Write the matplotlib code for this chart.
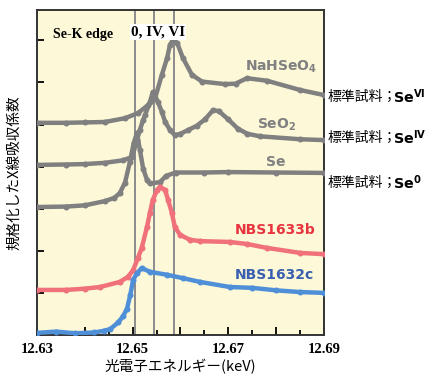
import matplotlib
matplotlib.use("Agg")
import matplotlib.pyplot as plt
from matplotlib.ticker import MultipleLocator, FixedLocator, FuncFormatter

plt.rcParams['font.family'] = ['Noto Sans CJK JP', 'DejaVu Sans']

# energy (keV) and normalised absorption
se_e = [12.630, 12.636, 12.640, 12.6442, 12.6462, 12.6473, 12.6484, 12.6494, 12.6502,
        12.6509, 12.6515, 12.6522, 12.6530, 12.6536, 12.6557, 12.6570, 12.6590,
        12.6650, 12.6700, 12.6800, 12.6900]
se_i = [3.04, 3.05, 3.08, 3.18, 3.26, 3.37, 3.62, 4.10, 4.55,
        4.80, 4.40, 3.95, 3.68, 3.60, 3.63, 3.78, 3.86,
        3.86, 3.87, 3.86, 3.85]

seo2_e = [12.630, 12.636, 12.640, 12.6442, 12.6480, 12.6499, 12.6509, 12.6515, 12.6522,
          12.6526, 12.6536, 12.6542, 12.6553, 12.6561, 12.6568, 12.6578, 12.6588,
          12.6600, 12.6616, 12.6634, 12.6651, 12.6668, 12.6680, 12.6700, 12.6720,
          12.6740, 12.6766, 12.6850, 12.6900]
seo2_i = [4.04, 4.05, 4.06, 4.09, 4.15, 4.23, 4.63, 4.87, 5.11,
          5.23, 5.53, 5.77, 5.53, 5.30, 5.06, 4.87, 4.75,
          4.78, 4.87, 4.97, 5.12, 5.34, 5.32, 5.12, 4.90,
          4.78, 4.72, 4.65, 4.63]

nahseo4_e = [12.630, 12.636, 12.640, 12.6442, 12.6484, 12.6511, 12.6532, 12.6547, 12.6561,
             12.6572, 12.6578, 12.6584, 12.6593, 12.6605, 12.6624, 12.6645, 12.6693,
             12.6715, 12.6739, 12.6781, 12.6850, 12.6900]
nahseo4_i = [5.04, 5.04, 5.05, 5.06, 5.15, 5.27, 5.46, 5.63, 6.18,
             6.58, 6.89, 7.01, 6.94, 6.58, 6.18, 6.02, 5.96,
             5.97, 6.10, 6.04, 5.82, 5.70]

nbs1633b_e = [12.630, 12.636, 12.640, 12.6432, 12.6473, 12.6490, 12.6501, 12.6511, 12.6519,
              12.6530, 12.6536, 12.6542, 12.6551, 12.6557, 12.6568, 12.6574, 12.6582,
              12.6588, 12.6599, 12.6620, 12.6641, 12.6703, 12.6740, 12.6780, 12.6850,
              12.6900]
nbs1633b_i = [1.07, 1.07, 1.10, 1.14, 1.26, 1.38, 1.54, 1.83, 2.07,
              2.57, 2.90, 3.21, 3.44, 3.52, 3.44, 3.21, 2.90,
              2.57, 2.38, 2.26, 2.23, 2.21, 2.16, 2.07, 1.95,
              1.92]

nbs1632c_e = [12.630, 12.634, 12.638, 12.642, 12.644, 12.6453, 12.6470, 12.6480, 12.6488,
              12.6495, 12.6501, 12.6509, 12.6519, 12.6536, 12.6572, 12.6605, 12.6641,
              12.6703, 12.6750, 12.6800, 12.6850, 12.6900]
nbs1632c_i = [0.05, 0.08, 0.04, 0.06, 0.10, 0.14, 0.30, 0.45, 0.62,
              0.95, 1.31, 1.47, 1.59, 1.50, 1.43, 1.35, 1.26,
              1.14, 1.12, 1.06, 1.02, 1.00]

edge_e = [12.6505, 12.6545, 12.6586]
std_prefix = '標準試料；'
std_sup = ['VI', 'IV', '0']
std_y = [5.65, 4.68, 3.62]

gray = '#808080'
red = '#f0717c'
blue = '#4f8fd8'

fig = plt.figure(figsize=(4.38, 3.78), dpi=100)
ax = fig.add_axes([0.0845, 0.1138, 0.6552, 0.8597])
ax.set_facecolor('#fcf8d8')

for e in edge_e:
    ax.axvline(e, color='#8c8c8c', lw=1.4, zorder=1)

curves = [(se_e, se_i, gray), (seo2_e, seo2_i, gray), (nahseo4_e, nahseo4_i, gray),
          (nbs1633b_e, nbs1633b_i, red), (nbs1632c_e, nbs1632c_i, blue)]
for xs, ys, c in curves:
    ax.plot(xs, ys, color=c, lw=3.2, marker='o', ms=3.3, solid_joinstyle='round', zorder=3)

ax.set_xlim(12.63, 12.69)
ax.set_ylim(0, 7.72)

ax.xaxis.set_major_locator(FixedLocator([12.63, 12.64, 12.65, 12.66, 12.67, 12.68, 12.69]))
ax.xaxis.set_minor_locator(MultipleLocator(0.005))
ax.xaxis.set_major_formatter(FuncFormatter(
    lambda v, p: '%.2f' % v if round(v * 100) % 2 == 1 else ''))
ax.yaxis.set_major_locator(MultipleLocator(1))
ax.set_yticklabels([])
ax.tick_params(axis='x', which='major', direction='in', length=6, width=1.3, pad=6)
ax.tick_params(axis='x', which='minor', direction='in', length=3.5, width=1.3)
ax.tick_params(axis='y', which='major', direction='in', length=5, width=1.3)
for lab in ax.get_xticklabels():
    lab.set_fontfamily('Liberation Serif')
    lab.set_fontweight('bold')
    lab.set_fontsize(10.5)
for s in ax.spines.values():
    s.set_linewidth(1.4)
    s.set_color('#333333')

ax.set_xlabel('光電子エネルギー(keV)', fontsize=10.5, labelpad=2)
ax.set_ylabel('規格化したX線吸収係数', fontsize=10.5, labelpad=8)

ax.text(12.6334, 7.14, 'Se-K edge', family='Liberation Serif', weight='bold',
        fontsize=10, va='center', ha='left')
ax.text(12.6553, 7.19, '0, IV, VI', family='Liberation Serif', weight='bold',
        fontsize=10.8, va='center', ha='center', zorder=5,
        bbox=dict(facecolor='white', edgecolor='none', pad=1))

ax.text(12.6811, 6.37, 'NaHSeO$_{\\mathregular{4}}$', color=gray, weight='bold',
        fontsize=10, ha='center', va='center', family='DejaVu Sans')
ax.text(12.6800, 4.99, 'SeO$_{\\mathregular{2}}$', color=gray, weight='bold',
        fontsize=10, ha='center', va='center', family='DejaVu Sans')
ax.text(12.6800, 4.11, 'Se', color=gray, weight='bold',
        fontsize=10, ha='center', va='center', family='DejaVu Sans')
ax.text(12.6797, 2.49, 'NBS1633b', color='#e8343f', weight='bold',
        fontsize=10, ha='center', va='center', family='DejaVu Sans')
ax.text(12.6797, 1.43, 'NBS1632c', color='#3a5fb0', weight='bold',
        fontsize=10, ha='center', va='center', family='DejaVu Sans')

for sup, y in zip(std_sup, std_y):
    t = ax.text(12.6907, y, std_prefix, fontsize=10, ha='left', va='center', clip_on=False)
    ax.annotate('Se$^{\\mathbf{%s}}$' % sup, xy=(1, 0.5), xycoords=t,
                xytext=(-2.5, 0), textcoords='offset points',
                fontsize=10.3, weight='bold', family='DejaVu Sans',
                ha='left', va='center', annotation_clip=False)

fig.savefig('out.png', dpi=100)
